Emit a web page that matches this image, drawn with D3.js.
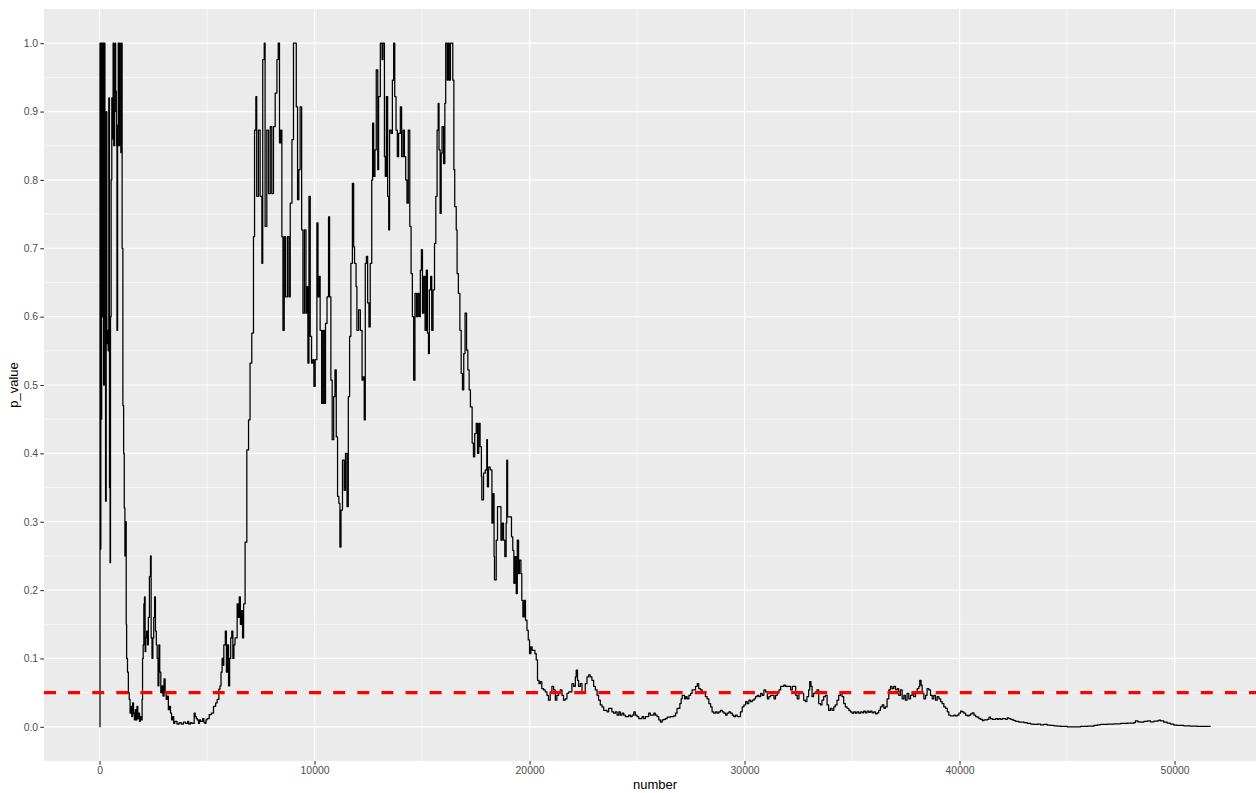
<!DOCTYPE html>
<html>
<head>
<meta charset="utf-8">
<script src="https://cdn.jsdelivr.net/npm/d3@7"></script>
<style>
  html, body { margin: 0; padding: 0; background: #ffffff; }
  svg { display: block; font-family: "Liberation Sans", Arial, Helvetica, sans-serif; }
</style>
</head>
<body>
<script>
// Running p-value against the number of observations, in phases: [number, p_value]
const burnIn = [
  [0,0],[20,1],[40,0.26],[60,1],[80,0.45],[100,1],[130,0.6],[160,1],[190,0.5],[220,1],
  [250,0.6],[280,0.33],[310,0.9],[340,0.56],[370,0.58],[400,0.55],[430,0.92],[460,0.35],
  [490,0.24],[510,0.6],[540,0.8],[570,0.92],[600,0.86],[630,1],[660,0.85],[690,0.9],[720,1],
  [750,0.93],[780,0.85],[810,0.58],[840,0.88],[870,1],[900,0.85],[930,1],[960,0.92],[990,0.84],
  [1020,1],[1050,0.7],[1085,0.47],[1120,0.4],[1150,0.32],[1180,0.25],[1210,0.3],[1240,0.15],
  [1260,0.1],[1300,0.08],[1340,0.05],[1380,0.04],[1420,0.02]
];

const firstDip = [
  [1460,0.03],[1500,0.015],[1540,0.035],[1580,0.02],[1620,0.01],[1660,0.025],[1700,0.01],
  [1740,0.03],[1780,0.012],[1820,0.02],[1860,0.008],[1900,0.015],[1940,0.01],[1980,0.04],
  [2000,0.1],[2030,0.12],[2060,0.18],[2090,0.19],[2120,0.11],[2150,0.13],[2190,0.14],[2230,0.12],
  [2270,0.16],[2320,0.22],[2370,0.25],[2400,0.13],[2440,0.1],[2480,0.13],[2520,0.16],[2560,0.19],
  [2600,0.14],[2640,0.12],[2680,0.1],[2720,0.06],[2760,0.12],[2800,0.08],[2850,0.05],[2900,0.06],
  [2950,0.045],[3000,0.07],[3050,0.05],[3100,0.04],[3150,0.045],[3200,0.025],[3250,0.03],
  [3300,0.02],[3350,0.01],[3400,0.015],[3450,0.005],[3500,0.008],[3600,0.004],[3700,0.006],
  [3800,0.004],[3900,0.007],[4000,0.005],[4100,0.008],[4150,0.004],[4230,0.006],[4300,0.005],
  [4400,0.02],[4450,0.015],[4500,0.012],[4550,0.01],[4600,0.005],[4650,0.01],[4700,0.008],
  [4800,0.012],[4850,0.007],[4900,0.005],[4950,0.01],[5000,0.012],[5100,0.018],[5200,0.02],
  [5300,0.03],[5400,0.035],[5470,0.04],[5550,0.055],[5600,0.06],[5650,0.08],[5700,0.1],
  [5750,0.09],[5780,0.12],[5850,0.14],[5900,0.08],[5950,0.12],[6000,0.06],[6050,0.1],
  [6100,0.13],[6150,0.14],[6200,0.1],[6250,0.12],[6300,0.13],[6400,0.18],[6450,0.16],
  [6500,0.19],[6550,0.15],[6600,0.17],[6650,0.13],[6700,0.18],[6770,0.27]
];

const highPlateau = [
  [6850,0.405],[6930,0.449],[7000,0.532],[7080,0.576],[7160,0.717],[7210,0.873],[7270,0.922],
  [7310,0.776],[7390,0.873],[7470,0.776],[7550,0.678],[7590,0.976],[7660,1],[7700,0.732],
  [7780,0.873],[7860,0.78],[7940,0.878],[8010,0.78],[8090,0.878],[8170,0.927],[8250,0.976],
  [8310,1],[8370,0.854],[8430,0.873],[8480,0.717],[8530,0.58],[8590,0.717],[8650,0.629],
  [8740,0.717],[8810,0.629],[8870,0.766],[8950,0.859],[9020,1],[9100,1],[9150,0.907],
  [9210,0.771],[9270,0.815],[9330,0.907],[9400,0.727],[9460,0.605],[9530,0.727],[9600,0.605],
  [9640,0.644],[9690,0.532],[9740,0.776],[9800,0.571],[9860,0.532],[9920,0.537],[9970,0.498],
  [10030,0.537],[10110,0.737],[10160,0.629],[10220,0.659],[10260,0.58],[10330,0.473],
  [10390,0.58],[10450,0.473],[10510,0.59],[10580,0.629],[10650,0.746],[10700,0.629],
  [10760,0.507],[10820,0.42],[10890,0.483],[10950,0.522],[11010,0.424],[11070,0.337],
  [11130,0.327],[11180,0.263],[11230,0.317],[11300,0.39],[11380,0.346],[11440,0.4],
  [11510,0.322],[11570,0.483],[11630,0.571],[11690,0.678],[11760,0.795],[11820,0.702],
  [11860,0.678],[11930,0.644],[11970,0.58],[12050,0.61],[12130,0.58],[12210,0.507],
  [12250,0.512],[12310,0.449],[12360,0.678],[12410,0.688],[12470,0.62],[12530,0.585],
  [12590,0.678],[12660,0.8],[12700,0.883],[12750,0.805],[12810,0.844],[12870,0.961],
  [12940,0.815],[12980,0.922],[13060,1],[13140,0.976],[13180,1],[13250,0.834],[13290,0.805],
  [13340,0.922],[13400,0.776],[13450,0.727],[13490,0.873],[13560,0.868],[13620,0.946],
  [13680,1],[13730,0.922],[13790,0.873],[13850,0.834],[13910,0.868],[13990,0.907],
  [14050,0.834],[14120,0.873],[14180,0.834],[14240,0.8],[14300,0.766],[14360,0.873],
  [14430,0.732],[14490,0.663],[14550,0.6],[14610,0.507],[14670,0.634],[14740,0.6],
  [14800,0.634],[14860,0.6],[14920,0.668],[14970,0.698],[15020,0.605],[15080,0.659],
  [15140,0.58],[15200,0.668],[15250,0.576],[15300,0.546],[15340,0.639],[15400,0.659],
  [15450,0.58],[15510,0.639],[15580,0.707],[15640,0.776],[15700,0.873],[15750,0.912],
  [15790,0.844],[15840,0.751],[15890,0.839],[15930,0.878],[16000,0.824],[16060,0.912],
  [16100,1],[16170,0.946],[16210,1],[16260,0.946],[16320,1],[16380,1],[16430,0.946]
];

const decline = [
  [16480,0.815],[16520,0.761],[16590,0.727],[16630,0.663],[16690,0.634],[16760,0.58],
  [16820,0.517],[16880,0.493],[16940,0.546],[17000,0.605],[17070,0.551],[17130,0.522],
  [17190,0.493],[17250,0.468],[17330,0.415],[17390,0.395],[17450,0.429],[17520,0.444],
  [17580,0.4],[17640,0.444],[17700,0.41],[17760,0.366],[17780,0.332],[17860,0.371],
  [17940,0.376],[18010,0.42],[18040,0.351],[18090,0.38],[18170,0.376],[18250,0.298],
  [18290,0.341],[18350,0.249],[18370,0.215],[18450,0.273],[18510,0.322],[18600,0.322],
  [18670,0.273],[18730,0.298],[18790,0.273],[18850,0.249],[18910,0.298],[18940,0.39],
  [18980,0.307],[19040,0.307],[19100,0.307],[19160,0.278],[19220,0.258],[19270,0.21],
  [19320,0.249],[19380,0.195],[19430,0.273],[19490,0.224],[19530,0.244],[19600,0.224],
  [19640,0.185],[19690,0.161],[19750,0.185],[19810,0.156],[19880,0.141],[19940,0.127],
  [20000,0.107],[20060,0.117],[20120,0.112],[20190,0.112],[20250,0.107],[20310,0.098],
  [20370,0.068],[20440,0.063]
];

const nearThreshold = [
  [20500,0.066],[20570,0.056],[20650,0.054],[20730,0.051],[20810,0.046],[20880,0.039],
  [20960,0.051],[21040,0.059],[21120,0.054],[21200,0.039],[21270,0.046],[21350,0.049],
  [21430,0.054],[21510,0.046],[21580,0.039],[21660,0.041],[21740,0.049],[21820,0.051],
  [21890,0.051],[21970,0.063],[22050,0.059],[22130,0.073],[22170,0.083],[22230,0.068],
  [22280,0.059],[22360,0.063],[22440,0.051],[22510,0.051],[22590,0.063],[22670,0.073],
  [22750,0.076],[22820,0.073],[22900,0.068],[22980,0.059],[23060,0.054],[23140,0.046],
  [23210,0.039],[23290,0.032],[23370,0.029],[23450,0.024],[23520,0.024],[23600,0.022],
  [23680,0.027],[23760,0.027],[23830,0.022],[23910,0.02],[23990,0.022],[24070,0.017],
  [24150,0.022],[24220,0.017],[24300,0.02],[24380,0.017],[24460,0.015],[24530,0.015],
  [24610,0.017],[24690,0.015],[24770,0.017],[24850,0.022],[24920,0.017],[25000,0.015],
  [25080,0.012],[25160,0.012],[25230,0.015],[25310,0.012],[25390,0.015],[25470,0.015],
  [25540,0.02],[25620,0.017],[25700,0.017],[25780,0.02],[25850,0.017],[25930,0.015],
  [26010,0.01],[26090,0.007],[26170,0.01],[26240,0.011],[26320,0.012],[26400,0.014],
  [26480,0.014],[26550,0.015],[26630,0.015],[26710,0.016],[26790,0.02],[26860,0.027],
  [26940,0.027],[26990,0.034],[27050,0.041],[27100,0.046],[27140,0.046],[27210,0.041],
  [27270,0.044],[27330,0.041],[27410,0.046],[27490,0.049],[27560,0.054],[27640,0.054],
  [27720,0.059],[27800,0.063],[27870,0.056],[27950,0.054],[28030,0.051],[28110,0.049],
  [28180,0.044],[28260,0.041],[28340,0.034],[28420,0.029],[28490,0.022],[28570,0.02],
  [28650,0.022],[28730,0.02],[28800,0.022],[28880,0.024],[28960,0.022],[29040,0.02],
  [29120,0.017],[29190,0.02],[29270,0.022],[29350,0.02],[29430,0.017],[29500,0.015],
  [29580,0.017],[29660,0.015],[29740,0.015],[29810,0.022],[29890,0.029],[29970,0.032],
  [30050,0.037],[30120,0.034],[30200,0.039],[30280,0.037],[30360,0.039],[30440,0.041],
  [30510,0.044],[30590,0.046],[30670,0.044],[30750,0.049],[30820,0.046],[30900,0.054],
  [30980,0.051],[31060,0.041],[31130,0.044],[31210,0.046],[31290,0.046],[31370,0.041],
  [31440,0.046],[31520,0.049],[31600,0.054],[31680,0.059],[31750,0.059],[31830,0.061],
  [31910,0.059],[31990,0.059],[32070,0.059],[32140,0.054],[32220,0.059],[32300,0.059],
  [32380,0.046],[32450,0.041],[32530,0.051],[32610,0.051],[32670,0.049],[32750,0.039],
  [32830,0.037],[32900,0.044],[32980,0.054],[33030,0.066],[33090,0.059],[33140,0.044],
  [33210,0.049],[33290,0.051],[33370,0.054],[33450,0.034],[33530,0.032],[33600,0.039],
  [33680,0.044],[33760,0.046],[33840,0.032],[33910,0.024],[33990,0.027],[34070,0.024],
  [34150,0.029],[34220,0.032],[34300,0.039],[34380,0.046],[34460,0.049],[34530,0.044],
  [34610,0.034],[34690,0.029],[34770,0.027],[34850,0.024],[34920,0.022],[35000,0.02],
  [35080,0.022],[35160,0.02],[35230,0.022],[35310,0.02],[35390,0.022],[35470,0.0205],
  [35540,0.023],[35620,0.0205],[35700,0.023],[35780,0.021],[35850,0.023],[35930,0.0205],
  [36010,0.022],[36090,0.019],[36170,0.0205],[36240,0.024],[36320,0.029],[36400,0.032],
  [36480,0.027],[36550,0.029],[36630,0.041],[36710,0.054],[36790,0.059],[36860,0.056],
  [36940,0.059],[37020,0.054],[37100,0.056],[37170,0.046],[37250,0.054],[37330,0.041],
  [37410,0.046],[37480,0.039],[37560,0.049],[37640,0.041],[37720,0.046],[37800,0.051],
  [37870,0.044],[37950,0.049],[38030,0.056],[38110,0.059],[38150,0.068],[38210,0.061],
  [38260,0.049],[38340,0.041],[38420,0.046],[38490,0.056],[38570,0.054],[38650,0.046],
  [38730,0.041],[38800,0.046],[38880,0.039],[38960,0.044],[39040,0.041],[39120,0.037],
  [39190,0.034],[39270,0.029],[39350,0.027],[39430,0.022],[39500,0.017]
];

const convergence = [
  [39580,0.016],[39660,0.016],[39740,0.017],[39810,0.016],[39890,0.017],[39970,0.02],
  [40050,0.023],[40120,0.022],[40200,0.02],[40280,0.017],[40360,0.016],[40440,0.017],
  [40510,0.019],[40590,0.0205],[40670,0.017],[40750,0.015],[40820,0.014],[40900,0.012],
  [40980,0.011],[41060,0.009],[41130,0.01],[41210,0.01],[41290,0.011],[41370,0.014],
  [41440,0.012],[41520,0.011],[41600,0.011],[41680,0.012],[41760,0.011],[41830,0.012],
  [41910,0.011],[41990,0.012],[42070,0.012],[42140,0.011],[42220,0.013],[42300,0.012],
  [42380,0.011],[42450,0.01],[42530,0.009],[42610,0.008],[42690,0.008],[42760,0.007],
  [42840,0.007],[43000,0.006],[43150,0.005],[43310,0.004],[43460,0.0034],[43620,0.004],
  [43770,0.003],[43920,0.0034],[44080,0.0024],[44230,0.002],[44390,0.0015],[44540,0.001],
  [44700,0.0005],[45010,0],[45320,0],[45630,0.0005],[45940,0.001],[46250,0.002],
  [46400,0.003],[46560,0.0034],[46870,0.004],[47180,0.0044],[47490,0.005],[47800,0.0054],
  [48110,0.0063],[48180,0.0088],[48290,0.0073],[48420,0.0068],[48570,0.0078],[48730,0.0088],
  [48880,0.0073],[49040,0.0083],[49190,0.0088],[49270,0.0098],[49350,0.0088],[49500,0.0068],
  [49660,0.0054],[49810,0.004],[49970,0.0024],[50120,0.002],[50430,0.0015],[50740,0.001],
  [51050,0.0005],[51360,0.0005],[51670,0.0003]
];

const series = [].concat(burnIn, firstDip, highPlateau, decline, nearThreshold, convergence);

const xMajorTicks = [0, 10000, 20000, 30000, 40000, 50000];
const xMinorTicks = [5000, 15000, 25000, 35000, 45000];
const yMajorTicks = [0, 0.1, 0.2, 0.3, 0.4, 0.5, 0.6, 0.7, 0.8, 0.9, 1.0];
const yMinorTicks = [0.05, 0.15, 0.25, 0.35, 0.45, 0.55, 0.65, 0.75, 0.85, 0.95];
const threshold = 0.05;
const xTitle = "number";
const yTitle = "p_value";

// ---- layout ----
const W = 1256, H = 793;
const panel = { left: 44, top: 9, right: 1266, bottom: 761 };

// 5% expansion around the data range
const xMin = 0, xMax = 51670;
const xPad = (xMax - xMin) * 0.05;
const x = d3.scaleLinear().domain([xMin - xPad, xMax + xPad]).range([panel.left, panel.right]);
const y = d3.scaleLinear().domain([-0.05, 1.05]).range([panel.bottom, panel.top]);

const svg = d3.select("body").append("svg").attr("width", W).attr("height", H);

svg.append("defs").append("clipPath").attr("id", "panel-clip")
  .append("rect")
  .attr("x", panel.left).attr("y", panel.top)
  .attr("width", panel.right - panel.left).attr("height", panel.bottom - panel.top);

const plot = svg.append("g").attr("clip-path", "url(#panel-clip)");

plot.append("rect")
  .attr("x", panel.left).attr("y", panel.top)
  .attr("width", panel.right - panel.left).attr("height", panel.bottom - panel.top)
  .attr("fill", "#EBEBEB");

// minor grid
plot.selectAll("line.xminor").data(xMinorTicks).join("line")
  .attr("x1", d => x(d)).attr("x2", d => x(d))
  .attr("y1", panel.top).attr("y2", panel.bottom)
  .attr("stroke", "#ffffff").attr("stroke-width", 0.6);
plot.selectAll("line.yminor").data(yMinorTicks).join("line")
  .attr("y1", d => y(d)).attr("y2", d => y(d))
  .attr("x1", panel.left).attr("x2", panel.right)
  .attr("stroke", "#ffffff").attr("stroke-width", 0.6);

// major grid
plot.selectAll("line.xmajor").data(xMajorTicks).join("line")
  .attr("x1", d => x(d)).attr("x2", d => x(d))
  .attr("y1", panel.top).attr("y2", panel.bottom)
  .attr("stroke", "#ffffff").attr("stroke-width", 1.2);
plot.selectAll("line.ymajor").data(yMajorTicks).join("line")
  .attr("y1", d => y(d)).attr("y2", d => y(d))
  .attr("x1", panel.left).attr("x2", panel.right)
  .attr("stroke", "#ffffff").attr("stroke-width", 1.2);

// p-value trace: each value holds until the next observation
const line = d3.line().x(d => x(d[0])).y(d => y(d[1])).curve(d3.curveStepAfter);
plot.append("path")
  .datum(series)
  .attr("d", line)
  .attr("fill", "none")
  .attr("stroke", "#000000")
  .attr("stroke-width", 1.25)
  .attr("stroke-linejoin", "round");

// significance threshold
plot.append("line")
  .attr("x1", panel.left).attr("x2", panel.right)
  .attr("y1", y(threshold)).attr("y2", y(threshold))
  .attr("stroke", "#FF0000")
  .attr("stroke-width", 3.3)
  .attr("stroke-dasharray", "12,12.1");

// axes
const axisColor = "#333333", labelColor = "#4D4D4D";

const yAxis = svg.append("g")
  .attr("transform", `translate(${panel.left},0)`)
  .call(d3.axisLeft(y).tickValues(yMajorTicks).tickFormat(d3.format(".1f"))
    .tickSize(3.7).tickPadding(2.2));
const xAxis = svg.append("g")
  .attr("transform", `translate(0,${panel.bottom})`)
  .call(d3.axisBottom(x).tickValues(xMajorTicks).tickFormat(d3.format("d"))
    .tickSize(3.7).tickPadding(2.2));

[xAxis, yAxis].forEach(g => {
  g.select(".domain").remove();
  g.selectAll(".tick line").attr("stroke", axisColor).attr("stroke-width", 1.07);
  g.selectAll(".tick text")
    .attr("fill", labelColor)
    .style("font-size", "10.4px")
    .style("font-family", '"Liberation Sans", Arial, Helvetica, sans-serif');
});

// titles
svg.append("text")
  .attr("x", (panel.left + panel.right) / 2)
  .attr("y", 789)
  .attr("text-anchor", "middle")
  .attr("fill", "#000000")
  .style("font-size", "13px")
  .text(xTitle);

svg.append("text")
  .attr("transform", `translate(18,${(panel.top + panel.bottom) / 2}) rotate(-90)`)
  .attr("text-anchor", "middle")
  .attr("fill", "#000000")
  .style("font-size", "13px")
  .text(yTitle);
</script>
</body>
</html>
